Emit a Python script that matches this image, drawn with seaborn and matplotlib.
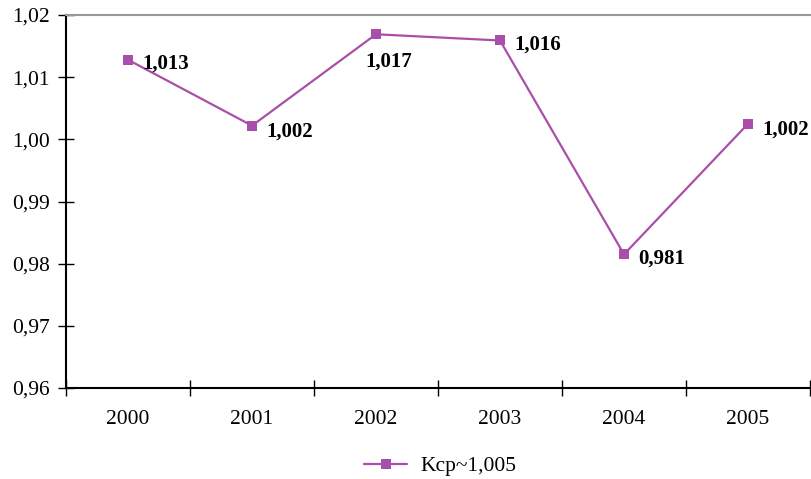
import matplotlib
matplotlib.use("Agg")
import matplotlib.pyplot as plt
import seaborn as sns
import pandas as pd
from matplotlib.ticker import FixedLocator, FuncFormatter

years = ["2000", "2001", "2002", "2003", "2004", "2005"]
values = [1.0128, 1.0022, 1.0169, 1.0159, 0.9815, 1.0025]
point_labels = ["1,013", "1,002", "1,017", "1,016", "0,981", "1,002"]
series_name = "Kcp~1,005"

sns.set_theme(style="white")
plt.rcParams['font.family'] = ['Liberation Serif', 'DejaVu Serif']
plt.rcParams['text.color'] = 'black'

df = pd.DataFrame({"year": years, "value": values, "series": series_name})
df["x"] = range(len(years))

color = "#a94fa9"
fig = plt.figure(figsize=(8.12, 4.79), dpi=100)
ax = fig.add_axes([66/812, 91/479, 744/812, 373/479])

sns.lineplot(data=df, x="x", y="value", hue="series", palette=[color],
             marker="s", markersize=6.5, markeredgewidth=0, linewidth=1.6, ax=ax)

ax.set_xlim(-0.5, len(years) - 0.5)
ax.set_ylim(0.96, 1.02)
ax.yaxis.set_major_locator(FixedLocator([0.96, 0.97, 0.98, 0.99, 1.00, 1.01, 1.02]))
ax.yaxis.set_major_formatter(FuncFormatter(lambda v, p: f"{v:.2f}".replace(".", ",")))

ax.set_xticks([i - 0.5 for i in range(len(years) + 1)])
ax.set_xticklabels([])
ax.set_xticks(range(len(years)), minor=True)
ax.set_xticklabels(years, minor=True)
ax.tick_params(axis="x", which="minor", bottom=False, length=0, pad=16, labelsize=15.5, labelcolor="black")
ax.tick_params(axis="x", which="major", bottom=True, direction="inout", length=12, width=1, color="black")
ax.tick_params(axis="y", left=True, direction="inout", length=11, width=1, color="black",
               labelsize=15.5, labelcolor="black", pad=6)
ax.set_xlabel("")
ax.set_ylabel("")

for s in ["left", "bottom"]:
    ax.spines[s].set_color("black")
    ax.spines[s].set_linewidth(1.5)
ax.spines["top"].set_color("#999999")
ax.spines["top"].set_linewidth(1.5)
ax.spines["right"].set_visible(False)

offsets = [(10, -3), (10, -4), (-8, -20), (10, -3), (10, -3), (10, -4)]
for i, (v, lab) in enumerate(zip(values, point_labels)):
    ax.annotate(lab, (i, v), xytext=offsets[i], textcoords="offset points",
                ha="left", va="center", fontsize=15, fontweight="bold", color="black")

leg = ax.legend(loc="lower center", bbox_to_anchor=(440/812, -0.012), bbox_transform=fig.transFigure,
                frameon=False, fontsize=15.5, handlelength=2.0, handletextpad=0.6, borderaxespad=0.0)
for t in leg.get_texts():
    t.set_color("black")

fig.savefig("out.png", dpi=100)
